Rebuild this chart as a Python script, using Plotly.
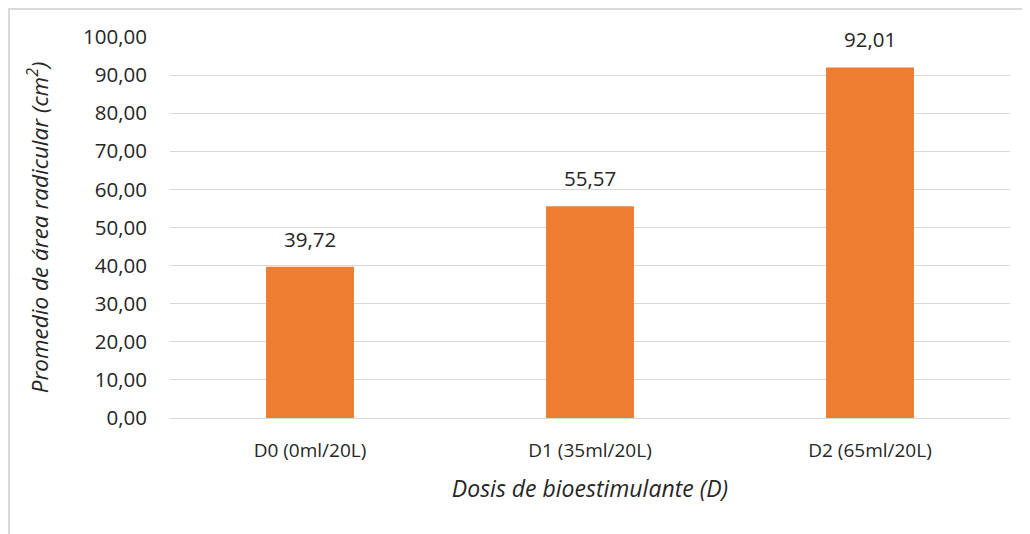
import plotly.graph_objects as go

categories = ["D0 (0ml/20L)", "D1 (35ml/20L)", "D2 (65ml/20L)"]
values = [39.72, 55.57, 92.01]
y_ticks = [0, 10, 20, 30, 40, 50, 60, 70, 80, 90, 100]

FONT = "Open Sans"
TXT = "#262626"
GRID = "#D9D9D9"

fig = go.Figure(go.Bar(
    x=categories, y=values,
    marker=dict(color="#ED7D31", line=dict(width=0)),
    width=0.314,
))

annotations = [
    dict(x=c, y=v, xref="x", yref="y", text=f"{v:.2f}".replace(".", ","),
         showarrow=False, yanchor="bottom", yshift=12,
         font=dict(family=FONT, size=20.5, color=TXT))
    for c, v in zip(categories, values)
]

L, T, PW, PH = 162, 29, 840, 381

fig.update_layout(
    width=1030, height=534,
    margin=dict(l=L, r=1030 - L - PW, t=T, b=534 - T - PH),
    paper_bgcolor="white", plot_bgcolor="white",
    separators=",.",
    showlegend=False,
    font=dict(family=FONT, size=19, color=TXT),
    annotations=annotations,
    xaxis=dict(
        showgrid=False, showline=False, zeroline=False,
        tickfont=dict(family=FONT, size=19, color=TXT),
        ticklabelstandoff=19,
        title=dict(text="<i>Dosis de bioestimulante (D)</i>", standoff=18,
                   font=dict(family=FONT, size=23, color=TXT)),
    ),
    yaxis=dict(
        range=[0, 100], tickvals=y_ticks, tickformat=".2f",
        showgrid=True, gridcolor=GRID, gridwidth=1,
        zeroline=True, zerolinecolor=GRID, zerolinewidth=1,
        showline=False,
        tickfont=dict(family=FONT, size=20.5, color=TXT),
        ticklabelstandoff=22,
        title=dict(text="<i>Promedio de área radicular (cm<sup>2</sup>)</i>", standoff=28,
                   font=dict(family=FONT, size=22.5, color=TXT)),
    ),
    shapes=[
        dict(type="line", xref="paper", yref="paper",
             x0=(1 - L) / PW, x1=(1 - L) / PW, y0=(T + PH) / PH, y1=-0.6,
             line=dict(color=GRID, width=2)),
        dict(type="line", xref="paper", yref="paper",
             x0=(1 - L) / PW, x1=1.2, y0=(T + PH - 1) / PH, y1=(T + PH - 1) / PH,
             line=dict(color=GRID, width=2)),
    ],
)

fig.write_html("out.html")
